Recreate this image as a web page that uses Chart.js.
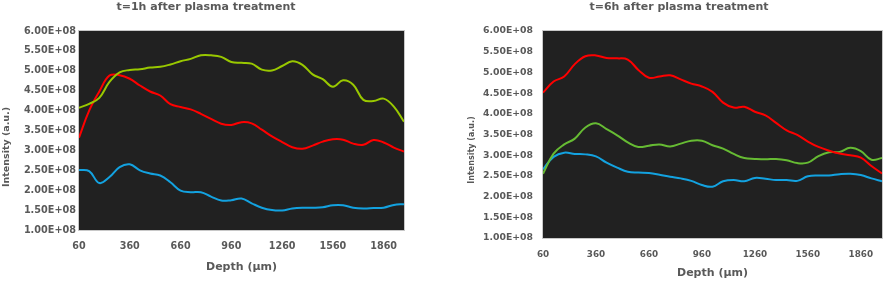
<!DOCTYPE html>
<html>
<head>
<meta charset="utf-8">
<script src="https://cdn.jsdelivr.net/npm/chart.js@4.4.0/dist/chart.umd.min.js"></script>
<style>
    html, body { margin: 0; padding: 0; background: #fff; }
    #wrap { position: relative; width: 886px; height: 283px; }
    .box { position: absolute; top: 0; width: 443px; height: 283px; }
</style>
</head>
<body>
<div id="wrap">
    <div class="box" style="left:0"><canvas id="chart-1h" width="443" height="283"></canvas></div>
    <div class="box" style="left:443px"><canvas id="chart-6h" width="443" height="283"></canvas></div>
</div>
<script>
// Data
const depths = [60, 120, 180, 240, 300, 360, 420, 480, 540, 600, 660, 720, 780, 840, 900, 960, 1020,
    1080, 1140, 1200, 1260, 1320, 1380, 1440, 1500, 1560, 1620, 1680, 1740, 1800, 1860, 1920, 1980];
const xTicks = [60, 360, 660, 960, 1260, 1560, 1860];
const yTicks = [1.0e8, 1.5e8, 2.0e8, 2.5e8, 3.0e8, 3.5e8, 4.0e8, 4.5e8, 5.0e8, 5.5e8, 6.0e8];

// t=1h
const green1h = [4.07e8, 4.17e8, 4.32e8, 4.72e8, 4.96e8, 5.02e8, 5.04e8, 5.08e8, 5.10e8, 5.16e8, 5.24e8,
    5.30e8, 5.39e8, 5.39e8, 5.35e8, 5.22e8, 5.20e8, 5.18e8, 5.03e8, 5.01e8, 5.12e8, 5.24e8, 5.15e8,
    4.91e8, 4.79e8, 4.60e8, 4.76e8, 4.65e8, 4.27e8, 4.24e8, 4.30e8, 4.10e8, 3.72e8];
const red1h = [3.32e8, 4.00e8, 4.48e8, 4.88e8, 4.89e8, 4.80e8, 4.63e8, 4.48e8, 4.38e8, 4.16e8, 4.09e8,
    4.03e8, 3.92e8, 3.79e8, 3.67e8, 3.64e8, 3.71e8, 3.68e8, 3.52e8, 3.35e8, 3.21e8, 3.08e8, 3.04e8,
    3.12e8, 3.22e8, 3.28e8, 3.27e8, 3.17e8, 3.14e8, 3.26e8, 3.20e8, 3.07e8, 2.97e8];
const blue1h = [2.51e8, 2.48e8, 2.18e8, 2.33e8, 2.58e8, 2.65e8, 2.50e8, 2.42e8, 2.37e8, 2.20e8, 1.99e8,
    1.95e8, 1.95e8, 1.84e8, 1.74e8, 1.75e8, 1.79e8, 1.67e8, 1.56e8, 1.50e8, 1.49e8, 1.54e8, 1.56e8,
    1.56e8, 1.57e8, 1.62e8, 1.62e8, 1.56e8, 1.54e8, 1.55e8, 1.56e8, 1.63e8, 1.65e8];

// t=6h
const red6h = [4.51e8, 4.78e8, 4.90e8, 5.20e8, 5.39e8, 5.41e8, 5.35e8, 5.34e8, 5.31e8, 5.06e8, 4.87e8,
    4.90e8, 4.93e8, 4.83e8, 4.73e8, 4.66e8, 4.53e8, 4.27e8, 4.15e8, 4.17e8, 4.05e8, 3.96e8, 3.78e8,
    3.60e8, 3.49e8, 3.33e8, 3.20e8, 3.11e8, 3.04e8, 3.00e8, 2.94e8, 2.74e8, 2.56e8];
const green6h = [2.55e8, 3.04e8, 3.26e8, 3.40e8, 3.67e8, 3.77e8, 3.63e8, 3.48e8, 3.31e8, 3.20e8, 3.23e8,
    3.26e8, 3.21e8, 3.28e8, 3.35e8, 3.35e8, 3.24e8, 3.16e8, 3.03e8, 2.93e8, 2.91e8, 2.90e8, 2.91e8,
    2.88e8, 2.81e8, 2.82e8, 2.98e8, 3.07e8, 3.08e8, 3.18e8, 3.10e8, 2.89e8, 2.93e8];
const blue6h = [2.66e8, 2.96e8, 3.06e8, 3.03e8, 3.02e8, 2.97e8, 2.82e8, 2.70e8, 2.60e8, 2.58e8, 2.57e8,
    2.53e8, 2.48e8, 2.44e8, 2.38e8, 2.28e8, 2.24e8, 2.37e8, 2.40e8, 2.37e8, 2.45e8, 2.43e8, 2.40e8,
    2.40e8, 2.38e8, 2.49e8, 2.51e8, 2.51e8, 2.54e8, 2.55e8, 2.52e8, 2.44e8, 2.37e8];

const FONT = "'DejaVu Sans', Verdana, sans-serif";
const TEXT = '#595959';

// dark plot area, light frame and the rotated y title
const plotFrame = {
    id: 'plotFrame',
    beforeDatasetsDraw(chart) {
        const { ctx, chartArea: a } = chart;
        ctx.save();
        ctx.fillStyle = '#212121';
        ctx.fillRect(a.left, a.top, a.right - a.left, a.bottom - a.top);
        ctx.restore();
    },
    afterDatasetsDraw(chart, args, opts) {
        const { ctx, chartArea: a } = chart;
        ctx.save();
        ctx.strokeStyle = '#c8c8c8';
        ctx.lineWidth = 1;
        ctx.strokeRect(a.left - 0.5, a.top - 0.5, a.right - a.left + 1, a.bottom - a.top + 1);
        ctx.translate(opts.titleX, opts.titleY);
        ctx.rotate(-Math.PI / 2);
        ctx.fillStyle = TEXT;
        ctx.font = `bold ${opts.titleSize}px ${FONT}`;
        ctx.textAlign = 'center';
        ctx.textBaseline = 'middle';
        ctx.fillText('Intensity (a.u.)', 0, 0);
        ctx.restore();
    }
};

function series(values, color) {
    return {
        data: depths.map((d, i) => ({ x: d, y: values[i] })),
        borderColor: color,
        borderWidth: 2,
        pointRadius: 0,
        tension: 0.4,
        fill: false
    };
}

function makeChart(id, title, datasets, lay) {
    return new Chart(document.getElementById(id), {
        type: 'line',
        data: { datasets },
        options: {
            responsive: false,
            animation: false,
            layout: { padding: { top: 0, left: lay.left, right: lay.right, bottom: lay.bottom } },
            plugins: {
                legend: { display: false },
                tooltip: { enabled: false },
                title: {
                    display: true,
                    text: title,
                    color: TEXT,
                    font: { family: FONT, size: 11, weight: 'bold', lineHeight: 1.2 },
                    padding: { top: 1, bottom: lay.top - 14.2 }
                },
                plotFrame: { titleX: lay.yTitleX, titleY: lay.yTitleY, titleSize: lay.yTitleSize }
            },
            scales: {
                x: {
                    type: 'linear',
                    min: 60,
                    max: 1980,
                    afterBuildTicks: (s) => { s.ticks = xTicks.map(v => ({ value: v })); },
                    afterFit: (s) => { s.height = lay.xHeight; },
                    grid: { display: false, drawTicks: false },
                    border: { display: false },
                    ticks: {
                        padding: lay.xPad,
                        color: TEXT,
                        maxRotation: 0,
                        autoSkip: false,
                        font: { family: FONT, size: lay.xSize, weight: 'bold' },
                        callback: (v) => String(v)
                    },
                    title: {
                        display: true,
                        text: 'Depth (µm)',
                        color: TEXT,
                        padding: 0,
                        font: { family: FONT, size: 11, weight: 'bold' }
                    }
                },
                y: {
                    min: 1e8,
                    max: 6e8,
                    afterBuildTicks: (s) => { s.ticks = yTicks.map(v => ({ value: v })); },
                    afterFit: (s) => { s.width = lay.yWidth; },
                    grid: { display: false, drawTicks: false },
                    border: { display: false },
                    ticks: {
                        padding: lay.yPad,
                        color: TEXT,
                        font: { family: FONT, size: lay.ySize, weight: 'bold' },
                        callback: (v) => (v / 1e8).toFixed(2) + 'E+08'
                    }
                }
            }
        },
        plugins: [plotFrame]
    });
}

makeChart('chart-1h', 't=1h after plasma treatment', [
    series(green1h, '#99c800'),
    series(red1h, '#ff0000'),
    series(blue1h, '#13a2e0')
], { top: 31, left: 8, right: 39, bottom: 9, xHeight: 44, xPad: 11, xSize: 9.6,
     yWidth: 71, yPad: 3, ySize: 9.7, yTitleX: 7, yTitleY: 147, yTitleSize: 9.5 });

makeChart('chart-6h', 't=6h after plasma treatment', [
    series(red6h, '#ff0000'),
    series(green6h, '#66bb33'),
    series(blue6h, '#13a2e0')
], { top: 31, left: 33, right: 4, bottom: 3, xHeight: 42, xPad: 11, xSize: 8.8,
     yWidth: 67, yPad: 10, ySize: 9.3, yTitleX: 29, yTitleY: 150, yTitleSize: 8 });
</script>
</body>
</html>
